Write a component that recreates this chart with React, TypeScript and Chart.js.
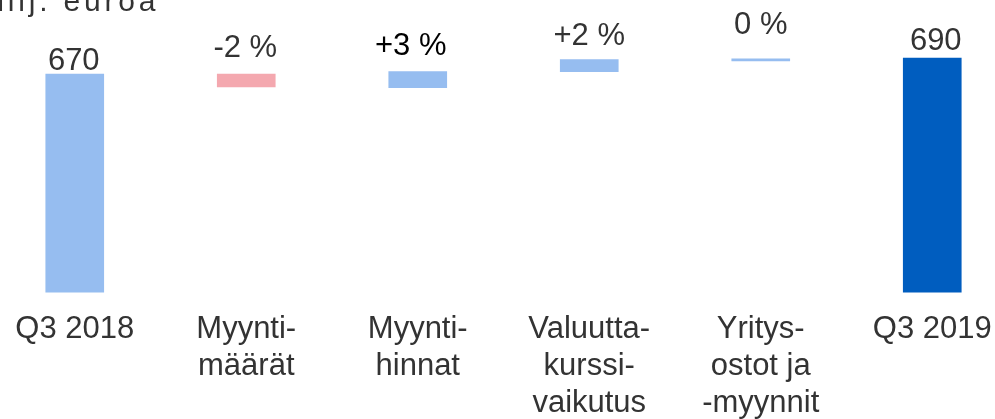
import React, { useEffect, useRef } from 'react';
import { Chart, registerables } from 'chart.js';

Chart.register(...registerables);

// ---- data ----
const categories: string[][] = [
  ['Q3 2018'],
  ['Myynti-', 'määrät'],
  ['Myynti-', 'hinnat'],
  ['Valuutta-', 'kurssi-', 'vaikutus'],
  ['Yritys-', 'ostot ja', '-myynnit'],
  ['Q3 2019'],
];
const AXIS_MIN = 396.8;
const AXIS_MAX = 762.5;
const barStart = [AXIS_MIN, 670, 653, 673, 686.5, AXIS_MIN];
const barEnd = [670, 654, 673, 688, 689, 690];
const valueLabels = ['670', '-2 %', '+3 %', '+2 %', '0 %', '690'];
const unitTitle = 'milj. euroa';

// ---- styles ----
const LIGHT = '#96BDF0';
const PINK = '#F4A8AF';
const DARK = '#005DBF';
const barColors = [LIGHT, PINK, LIGHT, LIGHT, LIGHT, DARK];
const labelColors = ['#333333', '#333333', '#000000', '#333333', '#333333', '#333333'];
const labelGap = [4, 17, 17, 15, 25, 8];
const labelDx = [-1, -1, -7, 0, 0, 3.5];
const FONT = '"Liberation Sans", Arial, sans-serif';

const valueLabelPlugin = {
  id: 'valueLabels',
  afterDatasetsDraw(chart: any) {
    const ctx = chart.ctx;
    const meta = chart.getDatasetMeta(0);
    ctx.save();
    ctx.font = `31px ${FONT}`;
    ctx.textAlign = 'center';
    ctx.textBaseline = 'alphabetic';
    meta.data.forEach((el: any, i: number) => {
      const top = Math.min(el.y, el.base);
      ctx.fillStyle = labelColors[i];
      ctx.fillText(valueLabels[i], el.x + labelDx[i], top - labelGap[i]);
    });
    ctx.restore();
  },
};

export default function App() {
  const canvasRef = useRef<HTMLCanvasElement | null>(null);

  useEffect(() => {
    if (!canvasRef.current) return;
    const chart = new Chart(canvasRef.current, {
      type: 'bar',
      data: {
        labels: categories as any,
        datasets: [
          {
            data: barStart.map((s, i) => [s, barEnd[i]]) as any,
            backgroundColor: barColors,
            borderWidth: 0,
            barThickness: 58,
          },
        ],
      },
      options: {
        animation: false,
        responsive: true,
        maintainAspectRatio: false,
        layout: { padding: 0 },
        plugins: {
          legend: { display: false },
          tooltip: { enabled: false },
          title: { display: false },
        },
        scales: {
          x: {
            grid: { display: false, drawTicks: false },
            border: { display: false },
            ticks: {
              autoSkip: false,
              maxRotation: 0,
              minRotation: 0,
              padding: 18.6,
              color: '#333333',
              font: { family: FONT, size: 31, lineHeight: 36.75 / 31 },
            },
          },
          y: {
            display: false,
            min: AXIS_MIN,
            max: AXIS_MAX,
          },
        },
      },
      plugins: [valueLabelPlugin],
    });
    return () => chart.destroy();
  }, []);

  return (
    <>
      <div
        style={{
          position: 'fixed',
          left: -11,
          top: 0,
          width: 1029,
          height: 440,
        }}
      >
        <canvas ref={canvasRef} />
      </div>
      <div
        style={{
          position: 'fixed',
          left: -21,
          top: -14,
          fontFamily: FONT,
          fontSize: 30,
          lineHeight: '30px',
          letterSpacing: '3.8px',
          color: '#333333',
          whiteSpace: 'nowrap',
        }}
      >
        {unitTitle}
      </div>
    </>
  );
}
